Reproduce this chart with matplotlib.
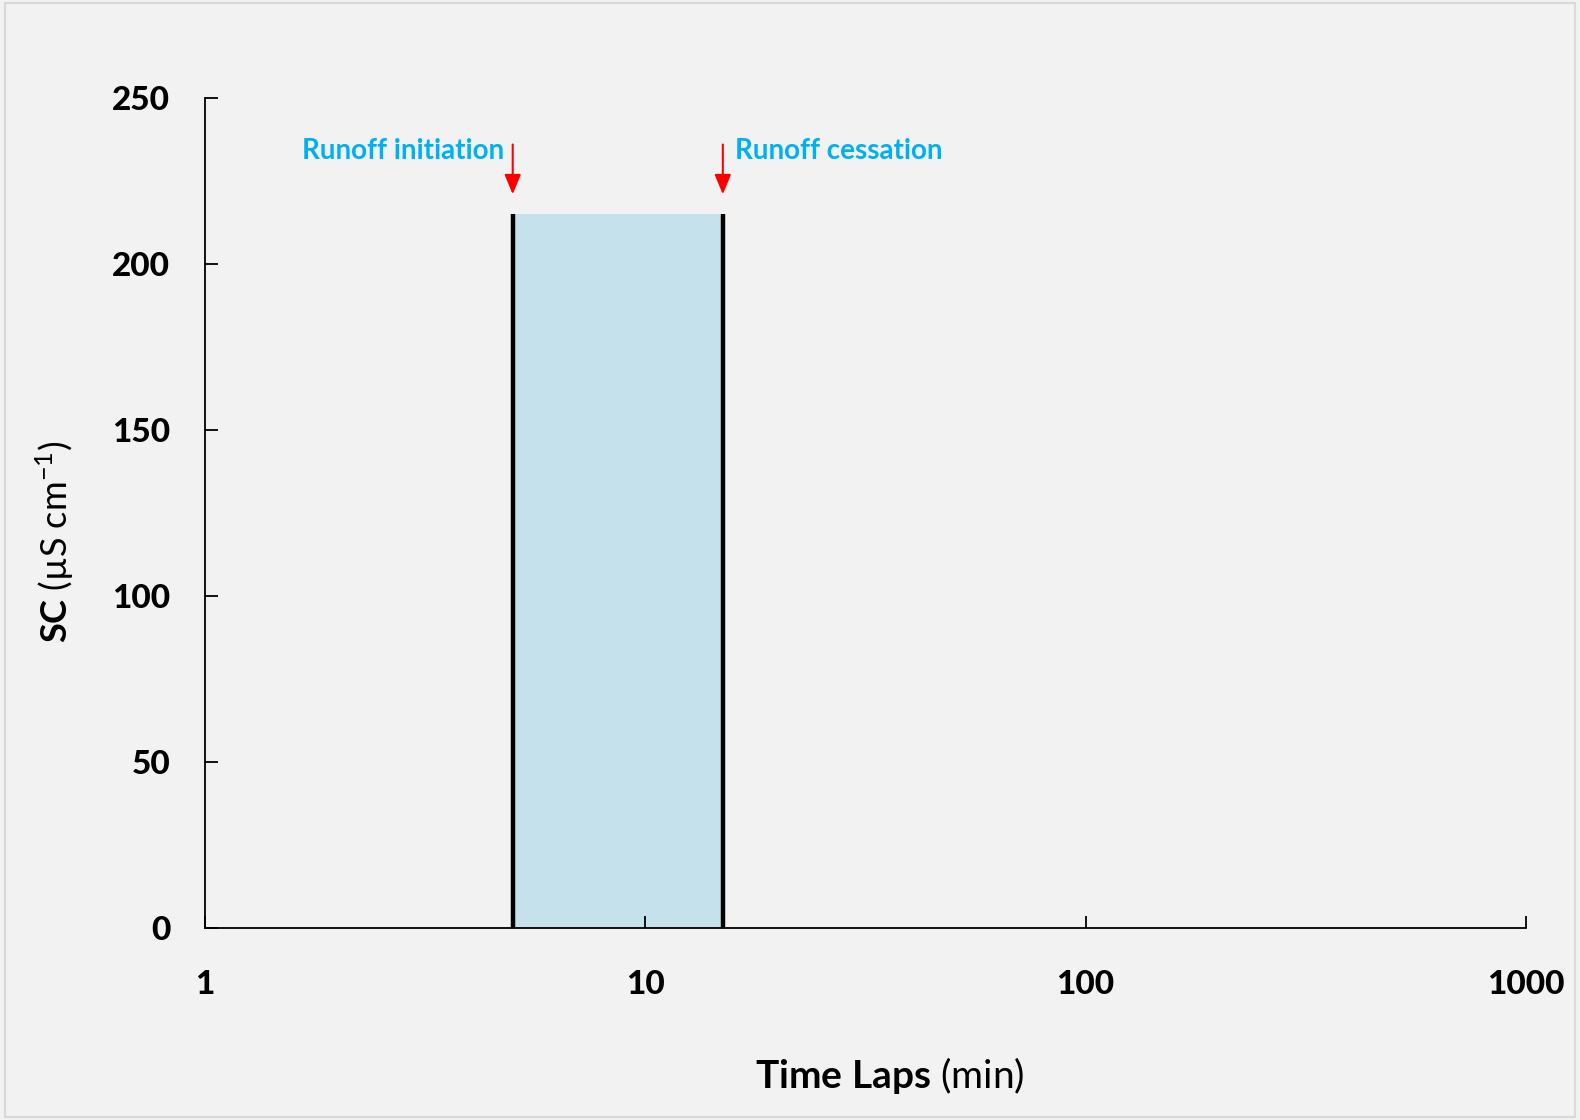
import matplotlib.pyplot as plt
import matplotlib.patches as patches

plt.rcParams['font.family'] = ['Lato', 'DejaVu Sans']
plt.rcParams['mathtext.fontset'] = 'custom'
plt.rcParams['mathtext.rm'] = 'Lato'
plt.rcParams['mathtext.bf'] = 'Lato:bold'

# runoff window (minutes) and SC height of the shaded box
runoff_start = 5
runoff_end = 15
sc_top = 215

arrow_tail = 236
arrow_tip = 221
label_y = 234
labels = ['Runoff initiation', 'Runoff cessation']
label_x = [4.78, 16.0]

x_ticks = [1, 10, 100, 1000]
y_ticks = [0, 50, 100, 150, 200, 250]

bg = '#F2F2F2'
fig = plt.figure(figsize=(15.8, 11.2), dpi=100, facecolor=bg)
fig.patches.append(patches.Rectangle((0.003, 0.003), 0.994, 0.994, transform=fig.transFigure,
                                     fill=False, edgecolor='#D9D9D9', lw=1.5))
ax = fig.add_axes([0.1297, 0.1714, 0.8361, 0.7411])
ax.set_facecolor(bg)

ax.fill_between([runoff_start, runoff_end], 0, sc_top, color='#C5E2EC', lw=0)
ax.vlines([runoff_start, runoff_end], 0, sc_top, colors='black', lw=3.2)

for x in [runoff_start, runoff_end]:
    ax.annotate('', xy=(x, arrow_tip), xytext=(x, arrow_tail),
                arrowprops=dict(arrowstyle='-|>,head_length=1.2,head_width=0.5',
                                color='#FF0000', lw=1.5, shrinkA=0, shrinkB=0))

ax.text(label_x[0], label_y, labels[0], ha='right', va='center', color='#00B0F0',
        fontsize=20, fontweight='bold')
ax.text(label_x[1], label_y, labels[1], ha='left', va='center', color='#00B0F0',
        fontsize=20, fontweight='bold')

ax.set_xscale('log')
ax.set_xlim(1, 1000)
ax.set_ylim(0, 250)
ax.set_xticks(x_ticks)
ax.set_xticklabels([str(t) for t in x_ticks])
ax.set_yticks(y_ticks)
ax.minorticks_off()
ax.xaxis.set_minor_locator(plt.NullLocator())

for s in ['top', 'right']:
    ax.spines[s].set_visible(False)
for s in ['left', 'bottom']:
    ax.spines[s].set_linewidth(1.3)

ax.tick_params(axis='both', direction='in', length=9, width=1.3, labelsize=24)
ax.tick_params(axis='y', pad=25)
ax.tick_params(axis='x', pad=30)
for lab in ax.get_xticklabels() + ax.get_yticklabels():
    lab.set_fontweight(900)

fig.text(0.035, 0.516, r'$\mathbf{SC}$ (µS cm$^{-1}$)', rotation=90, ha='center', va='center',
         fontsize=26)
fig.text(0.563, 0.04, r'$\mathbf{Time}$ $\mathbf{Laps}$ (min)', ha='center', va='center',
         fontsize=28)

fig.savefig('out.png', dpi=100, facecolor=bg)
